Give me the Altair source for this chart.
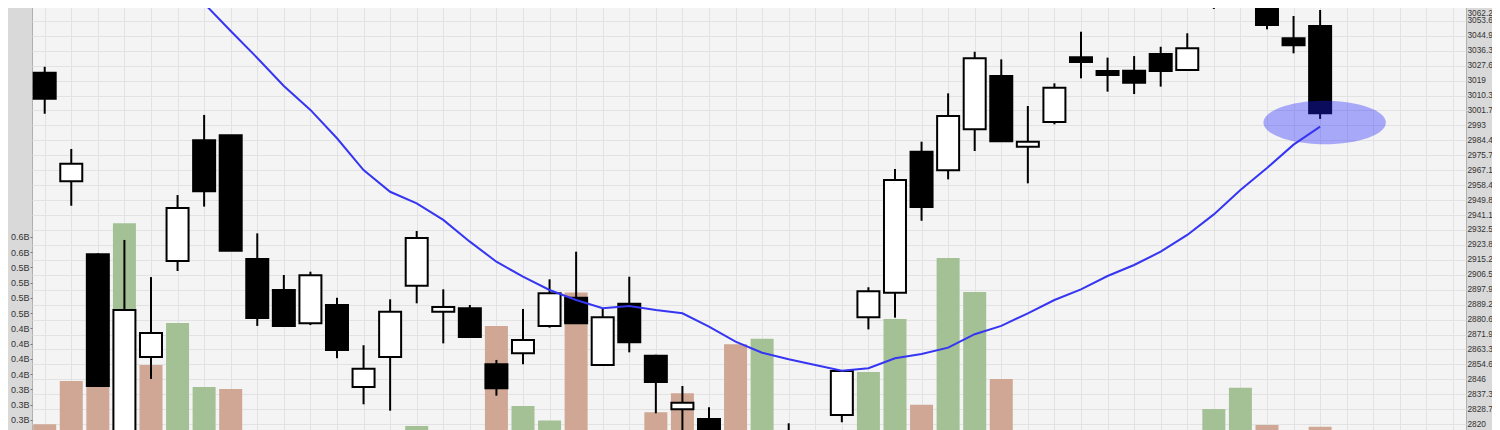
import altair as alt
import pandas as pd

# ---- data ----
idx = list(range(49))
opens = [3023.6, 2960.7, 2918.4, 2808.0, 2858.9, 2914.5, 2984.4, 2987.3, 2915.7, 2897.7,
         2878.4, 2889.0, 2841.5, 2858.9, 2900.2, 2885.1, 2887.1, 2854.7, 2861.0, 2876.9,
         2893.2, 2854.3, 2889.8, 2859.6, 2828.6, 2823.0, 2806.0, 2796.0, 2812.0, 2805.0,
         2825.3, 2881.9, 2896.1, 2977.8, 2967.0, 2990.8, 3021.7, 2980.7, 2995.0, 3032.5,
         3024.6, 3024.7, 3034.4, 3025.1, 3068.0, 3082.0, 3075.0, 3043.5, 3050.6]
highs = [3027.0, 2979.4, 2919.0, 2926.7, 2905.2, 2952.7, 2999.1, 2987.5, 2930.5, 2906.4,
         2908.3, 2893.2, 2865.7, 2892.3, 2931.9, 2898.1, 2889.0, 2857.2, 2886.7, 2903.9,
         2919.9, 2887.1, 2905.4, 2860.2, 2842.1, 2829.8, 2812.0, 2814.0, 2820.5, 2815.0,
         2850.8, 2899.3, 2967.8, 2983.6, 3011.6, 3035.7, 3031.3, 3004.3, 3017.4, 3047.3,
         3032.3, 3033.2, 3038.6, 3046.4, 3085.0, 3092.0, 3082.0, 3056.4, 3059.9]
lows = [2999.8, 2946.5, 2841.5, 2800.0, 2846.2, 2908.7, 2946.0, 2920.3, 2876.9, 2876.5,
        2877.4, 2858.2, 2831.5, 2827.8, 2890.0, 2866.8, 2870.1, 2836.5, 2854.7, 2875.9,
        2878.0, 2853.7, 2861.6, 2826.3, 2812.0, 2800.0, 2788.0, 2790.0, 2798.0, 2800.0,
        2821.1, 2874.9, 2881.7, 2937.8, 2961.8, 2978.2, 2983.5, 2959.5, 2993.7, 3020.3,
        3012.6, 3011.2, 3015.5, 3024.6, 3060.5, 3078.0, 3048.7, 3034.8, 2996.8]
closes = [3008.5, 2970.9, 2842.1, 2886.1, 2872.8, 2945.2, 2954.9, 2920.5, 2881.5, 2876.9,
          2906.2, 2863.0, 2852.1, 2885.1, 2927.8, 2887.9, 2870.5, 2840.8, 2868.7, 2895.8,
          2878.4, 2881.9, 2867.4, 2844.4, 2832.4, 2808.0, 2795.0, 2805.0, 2806.0, 2812.0,
          2850.8, 2897.0, 2961.4, 2945.8, 2998.5, 3031.9, 2983.8, 2983.6, 3014.9, 3029.8,
          3022.2, 3017.8, 3024.6, 3037.7, 3080.0, 3088.0, 3051.2, 3039.4, 3000.1]
close_before_first = 3015.0
volumes = [0.278, 0.349, 0.341, 0.6075, 0.375, 0.444, 0.339, 0.336, 0.24, 0.22,
           0.23, 0.23, 0.24, 0.21, 0.275, 0.24, 0.22, 0.439, 0.308, 0.284,
           0.494, 0.24, 0.23, 0.2976, 0.3288, 0.24, 0.409, 0.418, 0.24, 0.22,
           0.24, 0.3637, 0.4506, 0.310, 0.5506, 0.4948, 0.352, 0.24, 0.21, 0.23,
           0.20, 0.22, 0.21, 0.23, 0.303, 0.338, 0.2768, 0.24, 0.274]
ma = [None, None, None, None, None, 3080.2, 3063.7, 3047.7, 3032.1, 3015.9,
      3002.0, 2985.6, 2967.2, 2954.6, 2947.9, 2938.3, 2925.7, 2914.1, 2905.4, 2897.7,
      2891.9, 2887.1, 2888.4, 2886.1, 2884.2, 2876.5, 2867.8, 2861.4, 2857.6, 2854.3,
      2851.0, 2852.4, 2858.2, 2860.6, 2864.3, 2872.1, 2876.9, 2884.2, 2891.9, 2898.1,
      2905.8, 2912.2, 2919.9, 2929.6, 2941.5, 2955.6, 2968.4, 2981.9, 2992.3]
price_ticks = [2820, 2828.7, 2837.3, 2846, 2854.6, 2863.3, 2871.9, 2880.6, 2889.2, 2897.9,
               2906.5, 2915.2, 2923.8, 2932.5, 2941.1, 2949.8, 2958.4, 2967.1, 2975.7, 2984.4,
               2993, 3001.7, 3010.3, 3019, 3027.6, 3036.3, 3044.9, 3053.6, 3062.2]
volume_ticks = [0.285, 0.31, 0.335, 0.36, 0.385, 0.41, 0.435, 0.46, 0.485, 0.51, 0.535, 0.56, 0.585]
highlight_i = [48.17]
highlight_price = [2994.7]

# ---- tables ----
prev = [close_before_first] + closes[:-1]
df = pd.DataFrame({
    "i": idx, "open": opens, "high": highs, "low": lows, "close": closes,
    "volume": volumes, "ma": ma,
    "vdir": ["up" if c >= p else "down" for c, p in zip(closes, prev)],
})
ell_df = pd.DataFrame({"i": highlight_i, "price": highlight_price})

FONT = "Liberation Sans"
GRID = "#e2e2e2"
x_scale = alt.Scale(domain=[-0.478, 53.49], nice=False, zero=False, padding=0)
x_axis = alt.Axis(values=list(range(54)), grid=True, labels=False, ticks=False,
                  domain=False, title=None, gridColor=GRID, gridWidth=1)
price_scale = alt.Scale(domain=[2810.82, 3065.68], nice=False, zero=False, padding=0)
price_axis = alt.Axis(orient="right", values=price_ticks, format=".1~f", grid=True,
                      gridColor=GRID, gridWidth=1, tickSize=0, labelPadding=1,
                      labelFontSize=8.3, labelColor="#333333", labelFont=FONT,
                      domain=False, title=None, labelOverlap=False,
                      labelFlush=7, labelFlushOffset=-2)
vol_scale = alt.Scale(domain=[0.2522, 0.9735], nice=False, zero=False, padding=0)
vol_axis = alt.Axis(orient="left", values=volume_ticks,
                    labelExpr="format(datum.value, '.1f') + 'B'", grid=False,
                    tickSize=2, tickColor="#777777", labelPadding=1, labelFontSize=9,
                    labelColor="#333333", labelFont=FONT, domain=False, title=None,
                    labelOverlap=False, labelFlush=False)

X = alt.X("i:Q", scale=x_scale, axis=x_axis)

vol = alt.Chart(df).mark_bar(size=23, clip=True).encode(
    x=X,
    y=alt.Y("volume:Q", scale=vol_scale, axis=vol_axis),
    y2=alt.datum(0),
    color=alt.Color("vdir:N", scale=alt.Scale(domain=["up", "down"],
                                              range=["#a4c095", "#cfa794"]), legend=None),
)

wick = alt.Chart(df).mark_rule(strokeWidth=2, color="black", clip=True).encode(
    x=X,
    y=alt.Y("low:Q", scale=price_scale, axis=price_axis),
    y2="high:Q",
)

body = alt.Chart(df).mark_bar(size=22, stroke="black", strokeWidth=2, clip=True).encode(
    x=X,
    y=alt.Y("open:Q", scale=price_scale, axis=price_axis),
    y2="close:Q",
    fill=alt.condition("datum.close >= datum.open", alt.value("white"), alt.value("black")),
)

ellipse_path = "M-1,0A1,0.356,0,1,0,1,0A1,0.356,0,1,0,-1,0Z"
ell = alt.Chart(ell_df).mark_point(shape=ellipse_path, size=14982, filled=True,
                                   color="#2222ff", opacity=0.36, strokeWidth=0,
                                   clip=True).encode(
    x=X,
    y=alt.Y("price:Q", scale=price_scale, axis=price_axis),
)

line = alt.Chart(df).mark_line(color="#3535f2", strokeWidth=2, clip=True).encode(
    x=X,
    y=alt.Y("ma:Q", scale=price_scale, axis=price_axis),
)

price_layer = alt.layer(wick, body, ell, line)

chart = alt.layer(vol, price_layer).resolve_scale(y="independent").properties(
    width=1434, height=440,
    autosize=alt.AutoSizeParams(type="none"),
    padding={"left": 24, "top": -8, "right": 26, "bottom": 0},
    background="#d9d9d9",
).configure_view(fill="#f4f4f4", stroke="#b0b0b0", strokeWidth=1)

chart.save("out.html", embed_options={"renderer": "svg", "actions": False})
